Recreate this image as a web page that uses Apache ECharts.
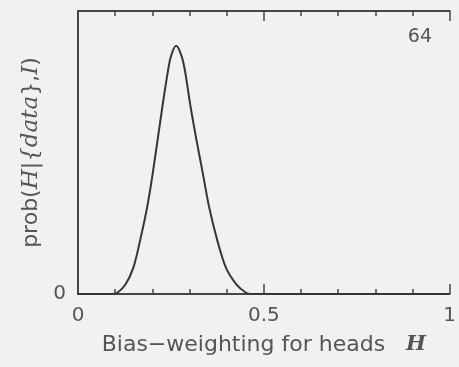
<!DOCTYPE html>
<html>
<head>
<meta charset="utf-8">
<script src="https://cdn.jsdelivr.net/npm/echarts@6/dist/echarts.min.js"></script>
<style>
  html, body { margin: 0; padding: 0; background: #f1f1f0; }
  #chart { width: 459px; height: 367px; }
</style>
</head>
<body>
<div id="chart"></div>
<script>
// Posterior for the coin's bias after 64 tosses (peak normalised to 1)
const biasH = [0, 0.092, 0.106, 0.128, 0.149, 0.167, 0.186, 0.201, 0.214, 0.227, 0.241, 0.250,
               0.264, 0.279, 0.289, 0.303, 0.319, 0.336, 0.353, 0.375, 0.398, 0.426, 0.452, 0.465, 1];
const posterior = [0, 0, 0.005, 0.039, 0.106, 0.215, 0.349, 0.485, 0.619, 0.754, 0.889, 0.957,
                   1.0, 0.957, 0.889, 0.754, 0.619, 0.485, 0.349, 0.215, 0.106, 0.039, 0.005, 0, 0];
const xTickLabels = ['0', '0.5', '1'];
const tossCount = '64';

const ink = '#353535';
const frame = '#454545';
const textColor = '#555';
const font = 'DejaVu Sans';

const chart = echarts.init(document.getElementById('chart'));

const xBase = {
  type: 'value', min: 0, max: 1, interval: 0.5,
  axisLine: { show: true, onZero: false, lineStyle: { color: frame, width: 2 } },
  axisTick: { show: true, inside: true, length: 10, lineStyle: { color: frame, width: 1.5 } },
  minorTick: { show: true, splitNumber: 5, length: 5, lineStyle: { color: frame, width: 1.5 } },
  splitLine: { show: false }
};

chart.setOption({
  backgroundColor: '#f1f1f0',
  animation: false,
  grid: { left: 78, right: 8, top: 11, bottom: 73 },
  xAxis: [
    Object.assign({}, xBase, {
      position: 'bottom',
      axisLabel: {
        show: true, margin: 12, color: textColor, fontFamily: font, fontSize: 20,
        formatter: v => {
          const i = Math.round(v / 0.5);
          return xTickLabels[i] !== undefined ? xTickLabels[i] : '';
        }
      },
      name: 'Bias\u2212weighting for heads   {i|H}',
      nameLocation: 'middle',
      nameGap: 40,
      nameTextStyle: {
        color: textColor, fontFamily: font, fontSize: 22,
        rich: { i: { fontFamily: 'DejaVu Serif', fontStyle: 'italic', fontWeight: 'bold', fontSize: 21, color: textColor } }
      }
    }),
    Object.assign({}, xBase, {
      position: 'top',
      axisLabel: { show: false }
    })
  ],
  yAxis: [
    {
      type: 'value', min: 0, max: 1.14, interval: 1.14,
      position: 'left',
      axisLine: { show: true, lineStyle: { color: frame, width: 2 } },
      axisTick: { show: false },
      splitLine: { show: false },
      axisLabel: {
        margin: 12, color: textColor, fontFamily: font, fontSize: 20,
        formatter: v => (v === 0 ? '0' : '')
      },
      name: 'prob({i|H}|{i|{data}},{i|I})',
      nameLocation: 'middle',
      nameGap: 26,
      nameRotate: 90,
      nameTextStyle: {
        color: textColor, fontFamily: font, fontSize: 22,
        rich: { i: { fontFamily: 'DejaVu Serif', fontStyle: 'italic', fontSize: 23, color: textColor } }
      }
    },
    {
      type: 'value', min: 0, max: 1.14, interval: 1.14,
      position: 'right',
      axisLine: { show: true, lineStyle: { color: frame, width: 2 } },
      axisTick: { show: false },
      axisLabel: { show: false },
      splitLine: { show: false }
    }
  ],
  graphic: [{
    type: 'text',
    right: 27, top: 28,
    style: { text: tossCount, fill: textColor, font: '19px "DejaVu Sans"' }
  }],
  series: [{
    type: 'line',
    xAxisIndex: 0, yAxisIndex: 0,
    data: biasH.map((h, i) => [h, posterior[i]]),
    smooth: 0.3,
    symbol: 'none',
    lineStyle: { color: ink, width: 2 }
  }]
});
</script>
</body>
</html>
